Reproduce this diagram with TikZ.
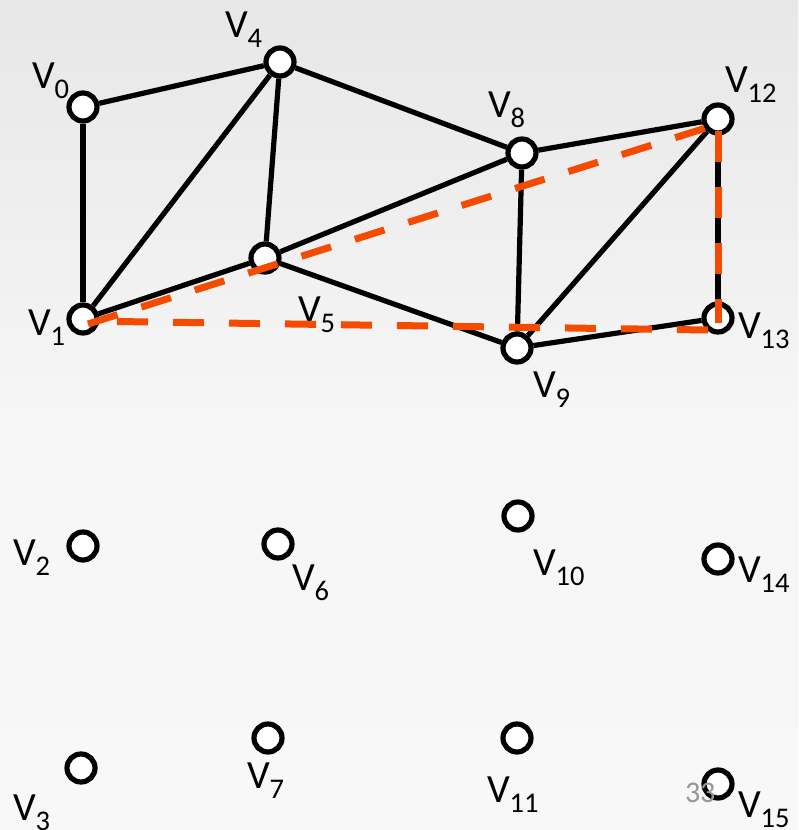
\documentclass[tikz,border=0pt]{standalone}
\usepackage{fontspec}
\setmainfont{Carlito}
\usetikzlibrary{calc}
\definecolor{dashorange}{RGB}{245,75,0}
\definecolor{bgtop}{RGB}{231,231,231}
\definecolor{bgmid}{RGB}{246,246,246}
\definecolor{bgbot}{RGB}{248,248,248}
\definecolor{pagegray}{RGB}{150,150,150}
\pgfdeclarelayer{bglayer}
\pgfdeclarelayer{edgelayer}
\pgfdeclarelayer{frontlayer}
\pgfsetlayers{bglayer,edgelayer,main,frontlayer}
\newcommand\vlab[1]{{\fontsize{40}{40}\selectfont V}\raisebox{-10pt}{\fontsize{28.5}{28.5}\selectfont #1}}
\begin{document}
\begin{tikzpicture}[x=1pt,y=-1pt,
  vert/.style={circle,draw=black,fill=white,line width=5.2pt,minimum size=28pt,inner sep=0pt},
  lbl/.style={anchor=base west,inner sep=0pt,outer sep=0pt,text=black},
  edge/.style={line width=5.2pt,draw=black},
  odash/.style={draw=dashorange,line width=7pt,dash pattern=on 31pt off 25pt}]
\useasboundingbox (0,0) rectangle (798,830);
\begin{pgfonlayer}{bglayer}
  \shade[top color=bgtop,bottom color=bgmid] (0,0) rectangle (798,420);
  \shade[top color=bgmid,bottom color=bgbot] (0,420) rectangle (798,830);
\end{pgfonlayer}

% vertices
\node[vert] (V0) at (83,107) {};
\node[vert] (V1) at (83,319) {};
\node[vert] (V2) at (83,546) {};
\node[vert] (V3) at (81,768) {};
\node[vert] (V4) at (280,62) {};
\node[vert] (V5) at (265,258) {};
\node[vert] (V6) at (278,544) {};
\node[vert] (V7) at (268,738) {};
\node[vert] (V8) at (522,153) {};
\node[vert] (V9) at (517,348) {};
\node[vert] (V10) at (518,516) {};
\node[vert] (V11) at (517,738) {};
\node[vert] (V12) at (718,119) {};
\node[vert] (V13) at (718,318) {};
\node[vert] (V14) at (718,559) {};
\node[vert] (V15) at (718,784) {};

% labels
\node[lbl] (L0) at (32,88) {\vlab{0}};
\node[lbl] (L1) at (28,335) {\vlab{1}};
\node[lbl] (L2) at (13,565) {\vlab{2}};
\node[lbl] (L3) at (13,820) {\vlab{3}};
\node[lbl] (L4) at (225,37) {\vlab{4}};
\node[lbl] (L5) at (298,322) {\vlab{5}};
\node[lbl] (L6) at (292,590) {\vlab{6}};
\node[lbl] (L7) at (247,788) {\vlab{7}};
\node[lbl] (L8) at (488,117) {\vlab{8}};
\node[lbl] (L9) at (533,397) {\vlab{9}};
\node[lbl] (L10) at (533,575) {\vlab{10}};
\node[lbl] (L11) at (487,802) {\vlab{11}};
\node[lbl] (L12) at (725,92) {\vlab{12}};
\node[lbl] (L13) at (738,338) {\vlab{13}};
\node[lbl] (L14) at (738,582) {\vlab{14}};
\node[lbl] (L15) at (738,817) {\vlab{15}};

% black edges
\begin{pgfonlayer}{edgelayer}
  \draw[edge] (V0) -- (V4);
  \draw[edge] (V0) -- (V1);
  \draw[edge] (V1) -- (V4);
  \draw[edge] (V4) -- (V5);
  \draw[edge] (V4) -- (V8);
  \draw[edge] (V1) -- (V5);
  \draw[edge] (V5) -- (V8);
  \draw[edge] (V5) -- (V9);
  \draw[edge] (V8) -- (V12);
  \draw[edge] (V8) -- (V9);
  \draw[edge] (V9) -- (V12);
  \draw[edge] (V12) -- (V13);
  \draw[edge] (V9) -- (V13);
\end{pgfonlayer}

% orange dashed
\begin{pgfonlayer}{frontlayer}
  \coordinate (dA) at ($(V1)+(5,5)$);
  \coordinate (dB) at ($(V12)+(-6,7)$);
  \coordinate (hA) at ($(V1)+(34,2.5)$);
  \coordinate (hB) at ($(V13)+(-10,12)$);
  \coordinate (vA) at ($(V12)+(0,12)$);
  \coordinate (vB) at ($(V13)+(0,5)$);
  \draw[odash] (dA) -- (dB);
  \draw[odash] (hA) -- (hB);
  \draw[odash] (vA) -- (vB);
  \node[lbl,text=pagegray] (pg) at (685,802) {\fontsize{30}{30}\selectfont 33};
\end{pgfonlayer}
\end{tikzpicture}
\end{document}
